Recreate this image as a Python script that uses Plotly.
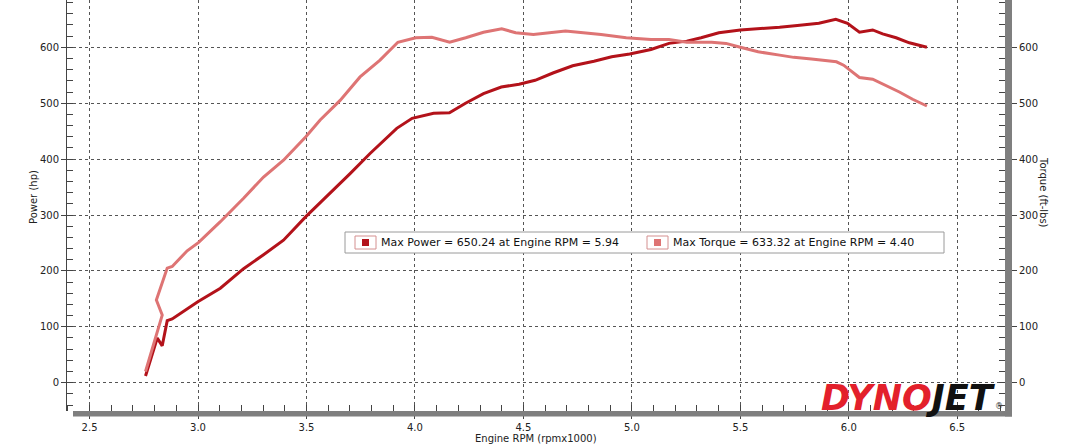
import plotly.graph_objects as go

# dyno run values
power_rpm = [2.758, 2.812, 2.835, 2.858, 2.881, 2.950, 2.999, 3.103, 3.210, 3.302, 3.394,
             3.497, 3.594, 3.701, 3.793, 3.916, 3.987, 4.086, 4.159, 4.233, 4.316, 4.398,
             4.480, 4.554, 4.636, 4.727, 4.825, 4.907, 4.990, 5.088, 5.171, 5.253, 5.319,
             5.401, 5.500, 5.582, 5.681, 5.763, 5.862, 5.940, 5.994, 6.049, 6.110, 6.156,
             6.218, 6.279, 6.325, 6.360]
power_hp = [12, 80, 66, 111, 114, 133, 145, 169, 204, 229, 255,
            297, 333, 374, 410, 455, 473, 482, 483, 500, 517, 529,
            534, 541, 554, 567, 575, 583, 588, 596, 607, 611, 617,
            626, 631, 633, 636, 639, 643, 650, 643, 627, 631, 624,
            617, 608, 604, 600]

torque_rpm = [2.758, 2.835, 2.808, 2.858, 2.881, 2.950, 3.003, 3.103, 3.210, 3.302, 3.394,
              3.497, 3.563, 3.655, 3.747, 3.839, 3.921, 4.004, 4.078, 4.160, 4.234, 4.316,
              4.400, 4.464, 4.546, 4.628, 4.694, 4.776, 4.858, 4.974, 5.088, 5.171, 5.253,
              5.368, 5.434, 5.500, 5.582, 5.681, 5.746, 5.828, 5.943, 5.976, 6.049, 6.110,
              6.172, 6.233, 6.294, 6.360]
torque_ftlb = [20, 121, 148, 205, 208, 236, 251, 288, 330, 368, 398,
               440, 470, 505, 547, 577, 609, 617, 618, 609, 617, 627,
               633, 626, 623, 626, 629, 626, 623, 617, 614, 614, 609,
               609, 607, 600, 592, 586, 582, 579, 574, 568, 546, 543,
               532, 520, 507, 495]

x_ticks = [2.5, 3.0, 3.5, 4.0, 4.5, 5.0, 5.5, 6.0, 6.5]
y_ticks = [0, 100, 200, 300, 400, 500, 600]
power_label = "Max Power = 650.24 at Engine RPM = 5.94"
torque_label = "Max Torque = 633.32 at Engine RPM = 4.40"

POWER_COL = "#b3121a"
TORQUE_COL = "#de7474"
FONT = "DejaVu Sans"

# plot area in pixels: x 67..1005, y 0..411 (from top)
L, R, T, B = 67, 1005, 0, 411


def px(x):
    return (x - L) / (R - L)


def py(y):
    return (B - y) / (B - T)


fig = go.Figure()
fig.add_trace(go.Scatter(x=torque_rpm, y=torque_ftlb, mode="lines", yaxis="y2",
                         line=dict(color=TORQUE_COL, width=3), showlegend=False))
fig.add_trace(go.Scatter(x=power_rpm, y=power_hp, mode="lines",
                         line=dict(color=POWER_COL, width=3), showlegend=False))

grid = dict(showgrid=True, gridcolor="#555555", gridwidth=1, griddash="dot")
fig.update_layout(
    width=1080, height=445,
    margin=dict(l=L, r=1080 - R, t=T, b=445 - B),
    paper_bgcolor="white", plot_bgcolor="white",
    font=dict(family=FONT, size=10, color="#222222"),
    xaxis=dict(range=[2.396, 6.72], tickvals=x_ticks, ticktext=["%.1f" % v for v in x_ticks],
               ticks="outside", ticklen=7, tickcolor="#444444", showline=False, zeroline=False,
               minor=dict(ticks="inside", dtick=0.1, ticklen=6, tickcolor="#444444", showgrid=False),
               **grid),
    yaxis=dict(range=[-50.6, 684.6], tickvals=y_ticks, ticks="outside", ticklen=5,
               tickcolor="#444444", showline=True, linecolor="#444444", linewidth=1,
               zeroline=False,
               minor=dict(ticks="inside", dtick=20, ticklen=6, tickcolor="#444444", showgrid=False),
               **grid),
    yaxis2=dict(range=[-50.6, 684.6], tickvals=y_ticks, overlaying="y", side="right",
                ticks="outside", ticklen=11, tickcolor="#444444", showgrid=False,
                zeroline=False, showline=False,
                minor=dict(ticks="inside", dtick=20, ticklen=6, tickcolor="#444444")),
)

# grey "shadow" bars along bottom and right edges
bar = "#7f7f7f"
fig.add_shape(type="rect", xref="paper", yref="paper", x0=px(73), x1=px(1012),
              y0=py(416.5), y1=py(411), fillcolor=bar, line_width=0, layer="above")
fig.add_shape(type="rect", xref="paper", yref="paper", x0=px(1005), x1=px(1012),
              y0=py(416.5), y1=py(0), fillcolor=bar, line_width=0, layer="above")

# axis titles
title_font = dict(size=10, color="#222222")
fig.add_annotation(text="Power (hp)", xref="paper", yref="paper", x=px(33), y=py(197),
                   xanchor="center", yanchor="middle", textangle=-90, showarrow=False,
                   font=title_font)
fig.add_annotation(text="Torque (ft-lbs)", xref="paper", yref="paper", x=px(1044), y=py(192),
                   xanchor="center", yanchor="middle", textangle=90, showarrow=False,
                   font=title_font)
fig.add_annotation(text="Engine RPM (rpmx1000)", xref="paper", yref="paper", x=px(536), y=py(438),
                   xanchor="center", yanchor="middle", showarrow=False, font=title_font)

# legend box
fig.add_shape(type="rect", xref="paper", yref="paper", x0=px(345), x1=px(944),
              y0=py(253), y1=py(232), fillcolor="white", line=dict(color="#9a9a9a", width=1),
              layer="above")
for bx, col, txt in [(355, POWER_COL, power_label), (647, TORQUE_COL, torque_label)]:
    fig.add_shape(type="rect", xref="paper", yref="paper", x0=px(bx), x1=px(bx + 21),
                  y0=py(249), y1=py(236), fillcolor="white",
                  line=dict(color="#d49090", width=1), layer="above")
    fig.add_shape(type="rect", xref="paper", yref="paper", x0=px(bx + 7), x1=px(bx + 14),
                  y0=py(246), y1=py(239), fillcolor=col, line_width=0, layer="above")
    fig.add_annotation(text=txt, xref="paper", yref="paper", x=px(bx + 24), y=py(242.5),
                       xanchor="left", yanchor="middle", showarrow=False,
                       font=dict(size=11, color="#111111"))

# logo
fig.add_annotation(text="<b><i><span style='color:#e3202b'>DYNO</span>"
                        "<span style='color:#111111'>JET</span></i></b>",
                   xref="paper", yref="paper", x=px(819), y=py(398), xanchor="left",
                   yanchor="middle", showarrow=False, font=dict(size=35, family=FONT))
fig.add_annotation(text="®", xref="paper", yref="paper", x=px(999), y=py(406),
                   xanchor="center", yanchor="middle", showarrow=False,
                   font=dict(size=8, color="#333333"))

# page has a default 8px body margin; drop it so the figure sits at the window corner
fig.write_html("out.html", config={"displayModeBar": False},
               post_script="document.body.style.margin='0';")
